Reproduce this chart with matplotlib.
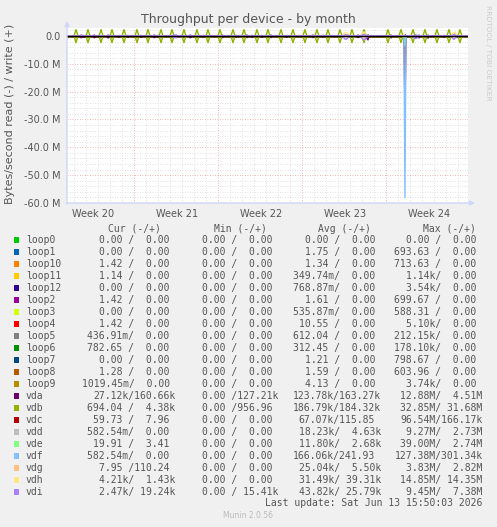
import numpy as np
import matplotlib
matplotlib.use("Agg")
import matplotlib.pyplot as plt
from matplotlib.patches import Rectangle

# Munin "Throughput per device - by month" (values in MB/s, read plotted negative)

names = ["loop0", "loop1", "loop10", "loop11", "loop12", "loop2", "loop3", "loop4",
         "loop5", "loop6", "loop7", "loop8", "loop9", "vda", "vdb", "vdc", "vdd",
         "vde", "vdf", "vdg", "vdh", "vdi"]
colors = ["#00CC00", "#0066B3", "#FF8000", "#FFCC00", "#330099", "#990099", "#CCFF00",
          "#FF0000", "#808080", "#008F00", "#00487D", "#B35A00", "#B38F00", "#6B006B",
          "#8FB300", "#B30000", "#BEBEBE", "#80FF80", "#80C0FF", "#FFC080", "#FFE680",
          "#AA80FF"]

cur = ["0.00 /  0.00", "0.00 /  0.00", "1.42 /  0.00", "1.14 /  0.00", "0.00 /  0.00",
       "1.42 /  0.00", "0.00 /  0.00", "1.42 /  0.00", "436.91m/  0.00", "782.65 /  0.00",
       "0.00 /  0.00", "1.28 /  0.00", "1019.45m/  0.00", "27.12k/160.66k", "694.04 /  4.38k",
       "59.73 /  7.96", "582.54m/  0.00", "19.91 /  3.41", "582.54m/  0.00", "7.95 /110.24",
       "4.21k/  1.43k", "2.47k/ 19.24k"]
mins = ["0.00 /  0.00"] * 13 + ["0.00 /127.21k", "0.00 /956.96"] + ["0.00 /  0.00"] * 6 + \
       ["0.00 / 15.41k"]
avgs = ["0.00 /  0.00", "1.75 /  0.00", "1.34 /  0.00", "349.74m/  0.00", "768.87m/  0.00",
        "1.61 /  0.00", "535.87m/  0.00", "10.55 /  0.00", "612.04 /  0.00", "312.45 /  0.00",
        "1.21 /  0.00", "1.59 /  0.00", "4.13 /  0.00", "123.78k/163.27k", "186.79k/184.32k",
        "67.07k/115.85", "18.23k/  4.63k", "11.80k/  2.68k", "166.06k/241.93",
        "25.04k/  5.50k", "31.49k/ 39.31k", "43.82k/ 25.79k"]
maxs = ["0.00 /  0.00", "693.63 /  0.00", "713.63 /  0.00", "1.14k/  0.00", "3.54k/  0.00",
        "699.67 /  0.00", "588.31 /  0.00", "5.10k/  0.00", "212.15k/  0.00", "178.10k/  0.00",
        "798.67 /  0.00", "603.96 /  0.00", "3.74k/  0.00", "12.88M/  4.51M", "32.85M/ 31.68M",
        "96.54M/166.17k", "9.27M/  2.73M", "39.00M/  2.74M", "127.38M/301.34k",
        "3.83M/  2.82M", "14.85M/ 14.35M", "9.45M/  7.38M"]

week_labels = ["Week 20", "Week 21", "Week 22", "Week 23", "Week 24"]
week_label_days = [2.17, 9.17, 16.17, 23.17, 30.17]
week_start_days = [5.58, 12.58, 19.58, 26.58]
span_days = 33.42

# daily backup bursts on vdb (days from graph start, MB/s peak)
vdb_days = [0.75, 1.75, 2.83, 3.75, 4.75, 5.83, 6.75, 7.83, 8.75, 9.75, 10.83, 11.75,
            12.75, 13.83, 14.75, 15.83, 16.75, 17.83, 18.83, 19.83, 20.83, 21.75, 22.75,
            23.75, 24.75, 26.75, 27.83, 28.83, 29.83, 30.83, 31.83, 32.75]
vdb_read = [2.4] * 32
vdb_write = [2.3] * 32
vdb_shape = [0.5, 1.0, 0.5]

vda_days = [1.17, 1.25, 1.42, 2.25, 2.33, 2.67, 3.42, 3.5, 4.33, 5.08, 6.17, 7.25, 7.33,
            7.58, 9.08, 9.67, 10.25, 10.33, 11.33, 12.92, 13.0, 14.08, 15.0, 15.42, 16.25,
            17.0, 18.33, 20.5, 21.33, 23.33, 24.25, 25.0, 25.08, 27.0, 28.17, 29.0, 29.08,
            29.33, 30.08, 31.42, 32.5]
vda_read = [0.6, 0.5, 0.5, 0.6, 0.5, 0.5, 0.7, 0.5, 0.5, 0.5, 0.5, 0.6, 0.5, 0.5, 0.6,
            0.5, 0.6, 0.5, 0.5, 0.6, 0.5, 0.5, 0.6, 0.5, 0.5, 0.6, 0.5, 0.6, 0.5, 0.7, 0.6,
            1.0, 1.4, 0.7, 4.5, 0.8, 0.6, 0.7, 0.8, 0.5, 0.6]
vda_write = [0.3, 0.2, 0.2, 0.3, 0.2, 0.2, 0.3, 0.2, 0.2, 0.2, 0.2, 0.3, 0.2, 0.2, 0.3,
             0.2, 0.3, 0.2, 0.2, 0.3, 0.2, 0.2, 0.3, 0.2, 0.2, 0.3, 0.2, 0.3, 0.2, 0.3, 0.3,
             0.3, 0.4, 0.3, 0.5, 0.3, 0.2, 0.3, 0.3, 0.2, 0.3]

vdc_days, vdc_read, vdc_write = [28.17], [27.0], [0.1]
vdd_days, vdd_read, vdd_write = [28.17], [2.5], [0.1]
vde_days, vde_read, vde_write = [28.17], [3.5], [0.1]
vdf_days, vdf_read, vdf_write = [28.17], [58.0], [0.3]

vdg_days = [23.17, 23.25, 23.33, 24.67, 24.75, 24.83, 32.17, 32.25, 32.33]
vdg_read = [0.4, 0.6, 0.4, 0.5, 0.8, 0.5, 0.6, 1.0, 0.6]
vdg_write = [0.3, 0.4, 0.3, 0.4, 0.6, 0.4, 0.5, 0.8, 0.9]

vdh_days = [23.0, 23.08, 23.17, 23.25, 23.33, 23.42, 23.5, 24.5, 24.58, 24.67, 24.75,
            24.83, 24.92, 25.0, 28.08, 32.08, 32.17, 32.25, 32.33, 32.42, 32.5]
vdh_write = [0.4, 0.8, 1.2, 1.3, 1.1, 0.8, 0.4, 0.4, 0.8, 1.2, 1.4, 1.2, 0.8, 0.4, 0.8,
             0.4, 0.9, 1.3, 1.4, 1.0, 0.5]
vdh_read = [0.1, 0.3, 0.4, 0.4, 0.4, 0.3, 0.1, 0.1, 0.3, 0.5, 0.6, 0.5, 0.3, 0.1, 0.4,
            0.1, 0.3, 0.5, 0.5, 0.4, 0.1]

vdi_days = [8.83, 8.92, 9.0, 9.08, 9.17, 9.5, 9.92, 23.0, 23.08, 23.17, 23.25, 23.33, 23.42,
            23.5, 24.5, 24.58, 24.67, 24.75, 24.83, 24.92, 25.0, 28.92, 29.0, 29.08, 29.17,
            29.25, 32.08, 32.17, 32.25, 32.33, 32.42]
vdi_read = [0.4, 0.5, 0.6, 0.5, 0.4, 0.4, 0.3, 0.3, 0.7, 1.1, 1.2, 1.0, 0.7, 0.3, 0.4, 0.8,
            1.2, 1.4, 1.2, 0.8, 0.4, 0.4, 0.8, 0.9, 0.7, 0.4, 0.4, 0.9, 1.2, 0.8, 0.4]
vdi_write = [0.2, 0.3, 0.3, 0.2, 0.2, 0.2, 0.1, 0.1, 0.2, 0.4, 0.4, 0.3, 0.2, 0.1, 0.1, 0.3,
             0.4, 0.5, 0.4, 0.3, 0.1, 0.1, 0.2, 0.3, 0.2, 0.1, 0.1, 0.4, 0.5, 0.4, 0.1]

# 2 hour samples
per_day = 12
n = int(span_days * per_day)
x = np.arange(n) / per_day


def series(days, vals, shape=(1.0,)):
    s = np.zeros(n)
    half = len(shape) // 2
    for d, v in zip(days, vals):
        i = int(round(d * per_day))
        for k, f in enumerate(shape):
            j = i + k - half
            if 0 <= j < n:
                s[j] = max(s[j], v * f)
    return s


events = {
    "vda": (vda_days, vda_read, vda_write, (1.0,)),
    "vdb": (vdb_days, vdb_read, vdb_write, vdb_shape),
    "vdc": (vdc_days, vdc_read, vdc_write, (1.0,)),
    "vdd": (vdd_days, vdd_read, vdd_write, (1.0,)),
    "vde": (vde_days, vde_read, vde_write, (1.0,)),
    "vdf": (vdf_days, vdf_read, vdf_write, (1.0,)),
    "vdg": (vdg_days, vdg_read, vdg_write, (1.0,)),
    "vdh": (vdh_days, vdh_read, vdh_write, (1.0,)),
    "vdi": (vdi_days, vdi_read, vdi_write, (1.0,)),
}

W, H = 497, 527
txt = "#555555"
fig = plt.figure(figsize=(W / 100, H / 100), dpi=100, facecolor="#F0F0F0")
ax = fig.add_axes([67 / W, 1 - 203 / H, 401 / W, 175 / H])
ax.set_facecolor("white")
ax.set_xlim(0, span_days)
ax.set_ylim(-60, 2.87)
for sp in ax.spines.values():
    sp.set_visible(False)

# grid
dot = (0, (1, 2))
for d in np.arange(0.58, span_days, 1.0):
    if min(abs(d - w) for w in week_start_days) > 0.1:
        ax.axvline(d, color="#D8D8D8", lw=0.6, ls=dot, zorder=0)
for w in week_start_days:
    ax.axvline(w, color="#E8A0A0", lw=0.6, ls=dot, zorder=0)
for yv in range(-58, 3, 2):
    if yv % 10:
        ax.axhline(yv, color="#D8D8D8", lw=0.6, ls=dot, zorder=0)
for yv in range(-50, 1, 10):
    ax.axhline(yv, color="#E8A0A0", lw=0.6, ls=dot, zorder=0)

for name, c in zip(names, colors):
    if name in events:
        d, r, wr, shp = events[name]
        rd = series(d, r, shp)
        wt = series(d, wr, shp)
    else:
        rd = np.zeros(n)
        wt = np.zeros(n)
    ax.plot(x, -rd, color=c, lw=1.0, zorder=3)
    ax.plot(x, wt, color=c, lw=1.0, zorder=3)
ax.axhline(0, color="black", lw=1.0, zorder=5)

ax.set_yticks([0, -10, -20, -30, -40, -50, -60])
ax.set_yticklabels(["0.0", "-10.0 M", "-20.0 M", "-30.0 M", "-40.0 M", "-50.0 M", "-60.0 M"])
ax.set_xticks(week_label_days)
ax.set_xticklabels(week_labels)
ax.tick_params(length=0, labelsize=7, colors=txt)
ax.tick_params(axis="y", pad=4.5)
ax.tick_params(axis="x", pad=4.0)

fig.text(248 / W, 1 - 23 / H, "Throughput per device - by month", ha="center",
         va="baseline", fontsize=9, color=txt)
fig.text(10 / W, 1 - 114 / H, "Bytes/second read (-) / write (+)", rotation=90,
         ha="center", va="center", fontsize=8, color=txt)
fig.text(488 / W, 1 - 53 / H, "RRDTOOL / TOBI OETIKER", rotation=270, ha="center",
         va="center", fontsize=5.4, color="#CCCCCC")

# overlay in pixel coordinates for axes arrows and legend
lg = fig.add_axes([0, 0, 1, 1])
lg.set_xlim(0, W)
lg.set_ylim(H, 0)
lg.axis("off")
arrow = dict(arrowstyle="-|>", color="#CFD6F8", lw=1, mutation_scale=7, shrinkA=0, shrinkB=0)
lg.annotate("", xy=(67, 21), xytext=(67, 204), arrowprops=arrow)
lg.annotate("", xy=(475, 203), xytext=(66, 203), arrowprops=arrow)

mono = "DejaVu Sans Mono"
cw = 5.85
edges = [175.5, 278.5, 381.0, 482.6]
heads = ["Cur (-/+)", "Min (-/+)", "Avg (-/+)", "Max (-/+)"]
head_x = [160.5, 267.0, 371.3, 476.3]
for hx, h in zip(head_x, heads):
    lg.text(hx, 231.5, h, ha="right", va="baseline", family=mono, fontsize=7, color=txt)

for i, (name, c) in enumerate(zip(names, colors)):
    yb = 242.7 + 12 * i
    lg.add_patch(Rectangle((14, 237.2 + 12 * i), 5.3, 5.3, color=c, lw=0))
    lg.text(26, yb, name, ha="left", va="baseline", family=mono, fontsize=7, color=txt)
    for e, col in zip(edges, [cur, mins, avgs, maxs]):
        s = col[i]
        xr = e - cw if s[-1].isdigit() else e
        lg.text(xr, yb, s, ha="right", va="baseline", family=mono, fontsize=7, color=txt)

lg.text(482.7, 506.5, "Last update: Sat Jun 13 15:50:03 2026", ha="right", va="baseline",
        family=mono, fontsize=7, color=txt)
lg.text(248, 518, "Munin 2.0.56", ha="center", va="baseline", fontsize=5.5, color="#BBBBBB")

fig.savefig("out.png", dpi=100, facecolor=fig.get_facecolor())
